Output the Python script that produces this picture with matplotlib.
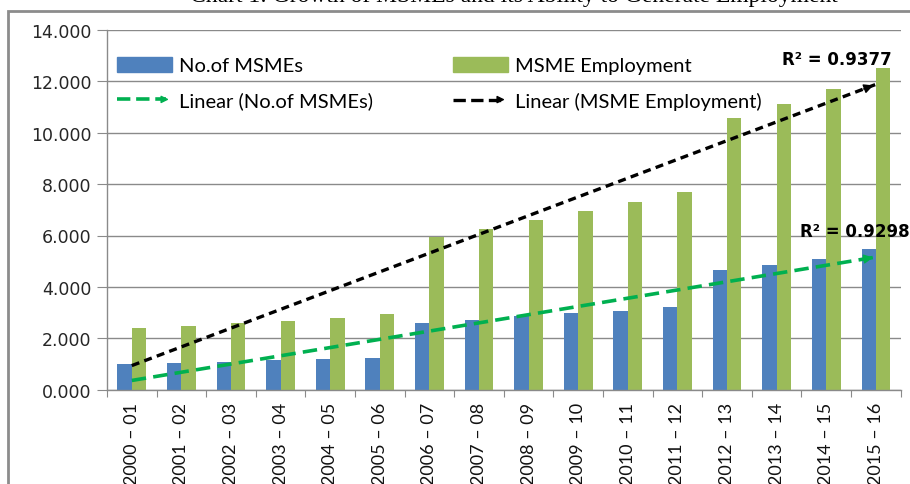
import numpy as np
import matplotlib
matplotlib.use("Agg")
import matplotlib.pyplot as plt
from matplotlib.patches import Patch, Rectangle, FancyArrowPatch
from matplotlib.lines import Line2D
from matplotlib.legend_handler import HandlerBase

years = ["2000 – 01", "2001 – 02", "2002 – 03", "2003 – 04", "2004 – 05", "2005 – 06",
         "2006 – 07", "2007 – 08", "2008 – 09", "2009 – 10", "2010 – 11", "2011 – 12",
         "2012 – 13", "2013 – 14", "2014 – 15", "2015 – 16"]
msmes = [0.99, 1.04, 1.08, 1.14, 1.18, 1.22, 2.61, 2.71, 2.86, 2.97, 3.08, 3.23,
         4.67, 4.85, 5.08, 5.46]
employment = [2.39, 2.47, 2.61, 2.69, 2.79, 2.95, 5.93, 6.25, 6.59, 6.95, 7.32, 7.69,
              10.59, 11.12, 11.70, 12.51]
r2_msmes = "R² = 0.9298"
r2_emp = "R² = 0.9377"

blue = "#4F81BD"
green = "#9BBB59"
trend_green = "#00B050"
grid_c = "#8a8a8a"


class ArrowHandler(HandlerBase):
    def create_artists(self, legend, orig, xd, yd, w, h, fontsize, trans):
        y = h / 2 - yd
        x0, x1 = -xd, w - xd
        shaft = Line2D([x0, x1 - 4], [y, y], color=orig.get_color(),
                       linestyle=orig.get_linestyle(), linewidth=orig.get_linewidth(),
                       transform=trans)
        head = FancyArrowPatch((x1 - 8, y), (x1, y), arrowstyle="-|>", mutation_scale=11,
                               color=orig.get_color(), linewidth=1, transform=trans)
        return [shaft, head]


fig = plt.figure(figsize=(9.1, 4.85), dpi=100)
ax = fig.add_axes([107 / 910, 1 - 390.7 / 485, (900.7 - 107) / 910, (390.7 - 30.9) / 485])

x = np.arange(len(years))
bw = 0.29
ax.bar(x - bw / 2, msmes, bw, color=blue, zorder=2)
ax.bar(x + bw / 2, employment, bw, color=green, zorder=2)

# linear trend lines (least squares over category index, like Excel)
for vals, col, ls, lw in [(msmes, trend_green, (0, (4, 2)), 2.6),
                          (employment, "black", (0, (2.4, 1.6)), 2.4)]:
    k, b = np.polyfit(x + 1, vals, 1)
    yfit = k * (x + 1) + b
    ax.plot(x, yfit, color=col, linestyle=ls, linewidth=lw, zorder=3)
    ax.annotate("", xy=(x[-1], yfit[-1]), xytext=(x[-1] - 0.3, yfit[-1] - 0.3 * k),
                arrowprops=dict(arrowstyle="-|>", color=col, lw=1, mutation_scale=14),
                zorder=4)

ax.text(13.1, 12.88, r2_emp, fontsize=12, fontweight="bold", family="DejaVu Sans",
        ha="left", va="center")
ax.text(13.46, 6.17, r2_msmes, fontsize=12, fontweight="bold", family="DejaVu Sans",
        ha="left", va="center")

ax.set_xlim(-0.5, len(years) - 0.5)
ax.set_ylim(0, 14)
ax.set_yticks(np.arange(0, 14.1, 2))
ax.set_yticklabels([f"{v:.3f}" for v in np.arange(0, 14.1, 2)], family="DejaVu Sans",
                   fontsize=12.5, color="#262626")
ax.yaxis.grid(True, color=grid_c, linewidth=1, zorder=0)
ax.set_axisbelow(True)
ax.tick_params(axis="y", length=7, color=grid_c, pad=4)

ax.set_xticks(np.arange(-0.5, len(years), 1))
ax.set_xticklabels([])
ax.tick_params(axis="x", which="major", length=5, color=grid_c)
ax.set_xticks(x, minor=True)
ax.set_xticklabels(years, minor=True, rotation=90, family="Lato", fontsize=13,
                   color="#111111", va="top")
ax.tick_params(axis="x", which="minor", length=0, pad=9)

for s in ["top", "right"]:
    ax.spines[s].set_visible(False)
for s in ["left", "bottom"]:
    ax.spines[s].set_color(grid_c)
    ax.spines[s].set_linewidth(1)

h_blue = Patch(color=blue)
h_green = Patch(color=green)
h_tg = Line2D([], [], color=trend_green, linestyle=(0, (4, 2)), linewidth=2.6)
h_tb = Line2D([], [], color="black", linestyle=(0, (2.4, 1.6)), linewidth=2.4)
leg = ax.legend([h_blue, h_tg, h_green, h_tb],
                ["No.of MSMEs", "Linear (No.of MSMEs)", "MSME Employment",
                 "Linear (MSME Employment)"],
                ncol=2, frameon=False, loc="upper left", bbox_to_anchor=(-0.01, 0.975),
                prop={"family": "Lato", "size": 14.5}, handlelength=2.7, handleheight=0.75,
                handletextpad=0.35, columnspacing=4.0, labelspacing=0.85,
                handler_map={Line2D: ArrowHandler()})

# outer chart frame and the cut-off caption above it
fig.add_artist(Rectangle((8 / 910, -0.2), 1.5, 1.2 - 12 / 485, transform=fig.transFigure,
                         fill=False, edgecolor="#8c8c8c", linewidth=2))
fig.text(0.565, 1 - 2 / 485, "Chart 1: Growth of MSMEs and its Ability to Generate Employment",
         family="Liberation Serif", fontsize=17, ha="center", va="baseline")

fig.savefig("out.png", dpi=100)
